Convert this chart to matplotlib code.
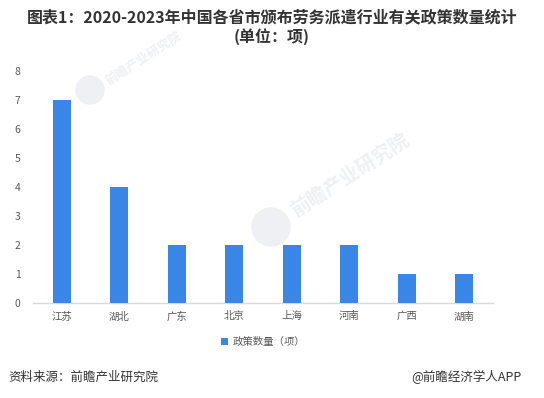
import matplotlib
matplotlib.use("Agg")
import matplotlib.pyplot as plt
from matplotlib.patches import Circle

plt.rcParams['font.family'] = ['Noto Sans CJK SC', 'DejaVu Sans']

categories = ["江苏", "湖北", "广东", "北京", "上海", "河南", "广西", "湖南"]
values = [7, 4, 2, 2, 2, 2, 1, 1]
yticks = [0, 1, 2, 3, 4, 5, 6, 7, 8]
series_name = "政策数量（项）"
title = "图表1：2020-2023年中国各省市颁布劳务派遣行业有关政策数量统计\n(单位：项)"
source = "资料来源：前瞻产业研究院"
credit = "@前瞻经济学人APP"

W, H = 544, 398
fig = plt.figure(figsize=(W / 100, H / 100), dpi=100)
ax = fig.add_axes([33 / W, 1 - 303 / H, 460 / W, 232 / H])

bar_color = "#3a86e6"
ax.bar(range(len(categories)), values, width=0.32, color=bar_color, label=series_name, zorder=3)

ax.set_xlim(-0.5, len(categories) - 0.5)
ax.set_ylim(0, 8)
ax.set_yticks(yticks)
ax.set_yticklabels([str(t) for t in yticks])
ax.set_xticks(range(len(categories)))
ax.set_xticklabels(categories)
ax.tick_params(axis='both', length=0, labelsize=7.5, colors="#595959")
ax.tick_params(axis='y', pad=9)
ax.tick_params(axis='x', pad=6)
ax.patch.set_alpha(0)
for s in ["top", "right", "left"]:
    ax.spines[s].set_visible(False)
ax.spines["bottom"].set_color("#d9d9d9")
ax.spines["bottom"].set_linewidth(1)

# faint watermarks (pixel-based placement)
wm_color = "#eff0f3"
for (cx, cy, r, tx, ty, fs) in [(90, 90, 14, 103, 88, 9), (271, 227, 19, 288, 220, 14)]:
    circ = Circle((cx / 100, (H - cy) / 100), r / 100, transform=fig.dpi_scale_trans,
                  color=wm_color, zorder=0)
    fig.patches.append(circ)
    fig.text(tx / W, 1 - ty / H, "前瞻产业研究院", rotation=33, fontsize=fs,
             fontweight='bold', color=wm_color, ha='left', va='bottom', zorder=0)

fig.text(0.5, 1 - 27 / H, title, ha='center', va='center', fontsize=11.5,
         fontweight='bold', color="#333333", linespacing=1.2)

ax.legend(loc='center', bbox_to_anchor=(0.5, (303 - 342) / 232), frameon=False,
          fontsize=7.5, handlelength=0.7, handleheight=0.7, handletextpad=0.4,
          labelcolor="#595959")

fig.text(8 / W, 1 - 377 / H, source, ha='left', va='center', fontsize=9, color="#333333")
fig.text(522 / W, 1 - 377 / H, credit, ha='right', va='center', fontsize=9, color="#333333")

fig.savefig("out.png", dpi=100)
